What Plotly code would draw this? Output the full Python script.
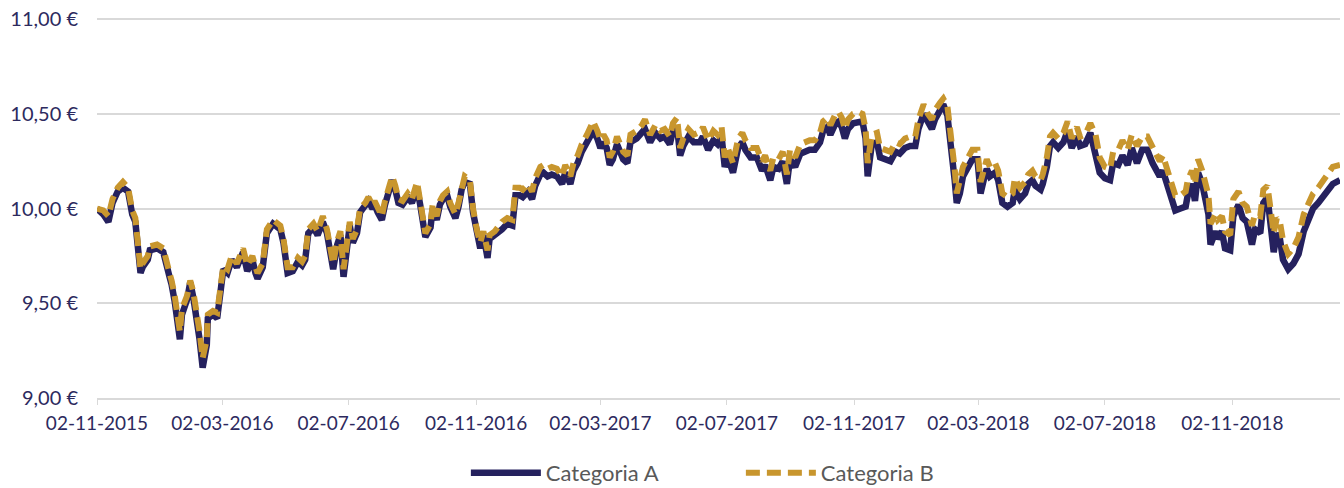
import pandas as pd
import plotly.graph_objects as go

start_date = "2015-11-02"

day_offsets = [
    0, 6, 11, 15, 20, 25, 30, 34, 37, 39, 42, 44, 49, 51, 58, 64, 68, 70, 72, 75,
    80, 82, 87, 90, 93, 97, 99, 102, 106, 107, 112, 116, 119, 122, 126, 130, 135, 141, 145, 150,
    153, 155, 160, 164, 170, 177, 180, 184, 189,
    194, 198, 201, 204, 209, 213, 218, 222, 225, 228, 232, 235, 238, 241, 244, 247, 251, 254, 259, 262,
    266, 268, 271, 275, 278, 281, 285, 288, 291, 295, 300, 304, 309, 312, 315, 317, 322, 324, 328, 331,
    334, 338, 341, 346, 349, 352, 355, 360, 363, 367, 370, 373, 377, 379, 384,
    391, 396, 401, 404, 408, 411, 416, 420, 423, 428, 431, 435, 439, 444, 449, 452, 457, 460, 464, 468,
    473, 476, 479, 483, 486, 489, 492, 495, 498, 502, 505, 508, 512, 515, 521, 526, 529, 534, 539, 544,
    548, 553, 556, 560, 563, 566, 571, 576,
    580, 582, 585, 590, 595, 599, 603, 606, 609, 614, 619, 623, 626, 631, 637, 642, 645, 650, 653, 658,
    662, 666, 669, 674, 679, 684, 688, 693, 698, 701, 705, 708, 713, 716, 719, 722, 725, 730, 735, 739,
    742, 744, 748, 753, 756, 761, 766, 771, 775,
    780, 785, 790, 793, 798, 802, 806, 809, 814, 817, 821, 824, 826, 828, 830, 833, 836, 840, 845, 850,
    853, 856, 859, 862, 867, 870, 874, 879, 884, 886, 891, 896, 899, 903, 906, 911, 913, 917, 920, 923,
    928, 933, 937, 941, 946, 949, 954, 959,
    964, 968, 973, 978, 981, 986, 990, 995, 999, 1004, 1009, 1014, 1019, 1024, 1026, 1029, 1034, 1038, 1041, 1046,
    1051, 1053, 1057, 1060, 1063, 1067, 1070, 1073, 1075, 1080, 1082, 1086, 1089, 1094, 1097, 1102, 1106, 1110, 1115, 1118,
    1123, 1126, 1130, 1133, 1136, 1139, 1142, 1145, 1150, 1155, 1160, 1165, 1169, 1174, 1179, 1184, 1189, 1193, 1200,
]

categoria_a = [
    10.00, 9.97, 9.93, 10.03, 10.09, 10.11, 10.09, 9.97, 9.93, 9.81, 9.66, 9.69, 9.73, 9.78, 9.79, 9.77, 9.70, 9.64, 9.60, 9.51,
    9.31, 9.44, 9.52, 9.61, 9.53, 9.40, 9.31, 9.16, 9.28, 9.42, 9.44, 9.42, 9.56, 9.68, 9.66, 9.73, 9.69, 9.77, 9.67, 9.73,
    9.66, 9.63, 9.69, 9.87, 9.92, 9.89, 9.82, 9.66, 9.67,
    9.72, 9.70, 9.73, 9.87, 9.90, 9.86, 9.93, 9.87, 9.75, 9.68, 9.81, 9.86, 9.64, 9.81, 9.91, 9.82, 9.87, 9.98, 10.01, 10.04,
    10.00, 10.02, 9.98, 9.94, 10.02, 10.08, 10.15, 10.10, 10.03, 10.02, 10.06, 10.03, 10.11, 10.02, 9.89, 9.85, 9.90, 10.00, 9.94, 10.02,
    10.05, 10.07, 10.01, 9.95, 10.01, 10.10, 10.14, 10.13, 9.98, 9.86, 9.79, 9.86, 9.74, 9.84, 9.86,
    9.89, 9.92, 9.91, 10.07, 10.07, 10.06, 10.09, 10.05, 10.12, 10.18, 10.19, 10.17, 10.18, 10.17, 10.13, 10.19, 10.13, 10.20, 10.24, 10.30,
    10.35, 10.38, 10.41, 10.37, 10.32, 10.35, 10.32, 10.23, 10.26, 10.34, 10.30, 10.26, 10.24, 10.35, 10.37, 10.40, 10.42, 10.35, 10.40, 10.37,
    10.38, 10.34, 10.41, 10.43, 10.28, 10.33, 10.38, 10.35,
    10.35, 10.35, 10.38, 10.31, 10.36, 10.34, 10.38, 10.22, 10.27, 10.19, 10.32, 10.35, 10.31, 10.27, 10.27, 10.20, 10.23, 10.15, 10.22, 10.21,
    10.25, 10.13, 10.26, 10.22, 10.29, 10.30, 10.31, 10.31, 10.35, 10.41, 10.43, 10.39, 10.45, 10.46, 10.43, 10.37, 10.42, 10.45, 10.46, 10.46,
    10.37, 10.17, 10.34, 10.35, 10.27, 10.26, 10.25, 10.30, 10.29,
    10.32, 10.33, 10.33, 10.42, 10.50, 10.45, 10.42, 10.47, 10.52, 10.55, 10.49, 10.36, 10.29, 10.15, 10.03, 10.08, 10.17, 10.21, 10.26, 10.26,
    10.08, 10.15, 10.21, 10.17, 10.19, 10.15, 10.03, 10.01, 10.03, 10.10, 10.05, 10.08, 10.13, 10.15, 10.12, 10.10, 10.13, 10.22, 10.33, 10.35,
    10.32, 10.35, 10.41, 10.32, 10.38, 10.33, 10.34, 10.40,
    10.30, 10.19, 10.16, 10.15, 10.24, 10.23, 10.28, 10.23, 10.32, 10.24, 10.31, 10.31, 10.24, 10.19, 10.17, 10.20, 10.10, 10.03, 9.99, 10.00,
    10.01, 10.07, 10.13, 10.04, 10.19, 10.13, 10.05, 9.97, 9.81, 9.88, 9.84, 9.88, 9.79, 9.78, 9.96, 10.02, 9.95, 9.93, 9.81, 9.89,
    9.87, 10.03, 10.06, 9.92, 9.77, 9.87, 9.84, 9.73, 9.68, 9.71, 9.76, 9.88, 9.94, 10.00, 10.03, 10.07, 10.11, 10.13, 10.15,
]

categoria_b = [
    10.00, 9.99, 9.96, 10.05, 10.11, 10.14, 10.11, 9.99, 9.95, 9.83, 9.68, 9.71, 9.75, 9.80, 9.81, 9.79, 9.72, 9.66, 9.62, 9.54,
    9.35, 9.47, 9.54, 9.62, 9.56, 9.43, 9.35, 9.21, 9.31, 9.44, 9.46, 9.45, 9.58, 9.70, 9.68, 9.75, 9.71, 9.79, 9.70, 9.75,
    9.69, 9.66, 9.71, 9.89, 9.94, 9.91, 9.84, 9.69, 9.69,
    9.74, 9.72, 9.75, 9.89, 9.92, 9.88, 9.96, 9.89, 9.78, 9.71, 9.83, 9.88, 9.68, 9.83, 9.93, 9.84, 9.89, 10.00, 10.03, 10.06,
    10.02, 10.04, 10.00, 9.96, 10.04, 10.10, 10.17, 10.12, 10.05, 10.04, 10.08, 10.05, 10.14, 10.04, 9.91, 9.87, 9.92, 10.02, 9.96, 10.04,
    10.07, 10.09, 10.03, 9.97, 10.03, 10.12, 10.17, 10.15, 10.00, 9.88, 9.82, 9.88, 9.78, 9.86, 9.88,
    9.93, 9.95, 9.94, 10.11, 10.11, 10.10, 10.13, 10.09, 10.16, 10.22, 10.23, 10.21, 10.22, 10.21, 10.17, 10.23, 10.17, 10.24, 10.28, 10.34,
    10.39, 10.42, 10.46, 10.41, 10.36, 10.39, 10.36, 10.27, 10.30, 10.38, 10.34, 10.30, 10.28, 10.39, 10.41, 10.44, 10.47, 10.39, 10.44, 10.41,
    10.42, 10.38, 10.45, 10.48, 10.32, 10.37, 10.42, 10.39,
    10.40, 10.40, 10.43, 10.36, 10.41, 10.39, 10.43, 10.27, 10.32, 10.24, 10.37, 10.40, 10.36, 10.32, 10.32, 10.25, 10.28, 10.20, 10.27, 10.26,
    10.30, 10.18, 10.31, 10.27, 10.34, 10.35, 10.36, 10.36, 10.40, 10.46, 10.48, 10.44, 10.50, 10.51, 10.48, 10.42, 10.47, 10.50, 10.51, 10.50,
    10.42, 10.24, 10.39, 10.40, 10.32, 10.31, 10.30, 10.35, 10.34,
    10.37, 10.38, 10.38, 10.47, 10.55, 10.50, 10.47, 10.52, 10.56, 10.58, 10.54, 10.41, 10.34, 10.21, 10.08, 10.14, 10.22, 10.26, 10.31, 10.31,
    10.14, 10.20, 10.26, 10.22, 10.24, 10.20, 10.08, 10.06, 10.08, 10.16, 10.11, 10.14, 10.18, 10.20, 10.17, 10.15, 10.18, 10.27, 10.38, 10.40,
    10.37, 10.40, 10.46, 10.37, 10.43, 10.38, 10.39, 10.45,
    10.39, 10.27, 10.22, 10.21, 10.30, 10.31, 10.36, 10.31, 10.39, 10.33, 10.38, 10.38, 10.33, 10.27, 10.25, 10.28, 10.18, 10.12, 10.07, 10.07,
    10.09, 10.15, 10.20, 10.13, 10.26, 10.20, 10.13, 10.07, 9.92, 9.97, 9.94, 9.96, 9.88, 9.86, 10.05, 10.09, 10.03, 10.01, 9.91, 9.97,
    9.96, 10.10, 10.12, 10.01, 9.87, 9.95, 9.93, 9.83, 9.76, 9.79, 9.85, 9.97, 10.02, 10.08, 10.11, 10.15, 10.19, 10.22, 10.23,
]

tick_dates = ["2015-11-02", "2016-03-02", "2016-07-02", "2016-11-02", "2017-03-02",
              "2017-07-02", "2017-11-02", "2018-03-02", "2018-07-02", "2018-11-02"]
y_ticks = [9.0, 9.5, 10.0, 10.5, 11.0]
y_tick_labels = ["9,00 €", "9,50 €", "10,00 €", "10,50 €", "11,00 €"]

assert len(day_offsets) == len(categoria_a) == len(categoria_b)

dates = pd.Timestamp(start_date) + pd.to_timedelta(day_offsets, unit="D")

NAVY = "#25215e"
GOLD = "#c8962e"
TICK_COLOR = "#2d2a5e"

fig = go.Figure()
fig.add_trace(go.Scatter(x=dates, y=categoria_a, mode="lines", name="Categoria A",
                         line=dict(color=NAVY, width=6.5)))
fig.add_trace(go.Scatter(x=dates, y=categoria_b, mode="lines", name="Categoria B",
                         line=dict(color=GOLD, width=6, dash="14px,7px")))

fig.update_layout(
    width=1344, height=488,
    margin=dict(l=97, r=4, t=18, b=90, autoexpand=False),
    paper_bgcolor="white", plot_bgcolor="white",
    font=dict(family="Lato", size=19, color=TICK_COLOR),
    showlegend=True,
    legend=dict(orientation="h", x=0.518, xanchor="center", y=-0.197, yanchor="middle",
                font=dict(family="Lato", size=22, color="#595959"),
                itemwidth=70, entrywidth=190, traceorder="normal"),
    xaxis=dict(
        type="date",
        range=[dates[0], dates[-1]],
        tickvals=tick_dates,
        tickformat="%d-%m-%Y",
        showgrid=False,
        showline=True, linecolor="#d9d9d9", linewidth=1.5,
        ticks="outside", ticklen=5, tickcolor="#d9d9d9",
        ticklabelstandoff=2,
        ticklabeloverflow="allow",
        tickfont=dict(family="Lato", size=19, color=TICK_COLOR),
        zeroline=False, automargin=False,
    ),
    yaxis=dict(
        range=[9.0, 11.006],
        tickvals=y_ticks,
        ticktext=y_tick_labels,
        showgrid=True, gridcolor="#d9d9d9", gridwidth=1.5,
        showline=False, zeroline=False,
        ticklabelstandoff=18,
        ticklabeloverflow="allow",
        tickfont=dict(family="Lato", size=20, color=TICK_COLOR),
        automargin=False,
    ),
)

# remove the default 8px page margin so the figure fills the window exactly
fig.write_html("out.html", config={"displayModeBar": False},
               post_script="document.body.style.margin='0';")
